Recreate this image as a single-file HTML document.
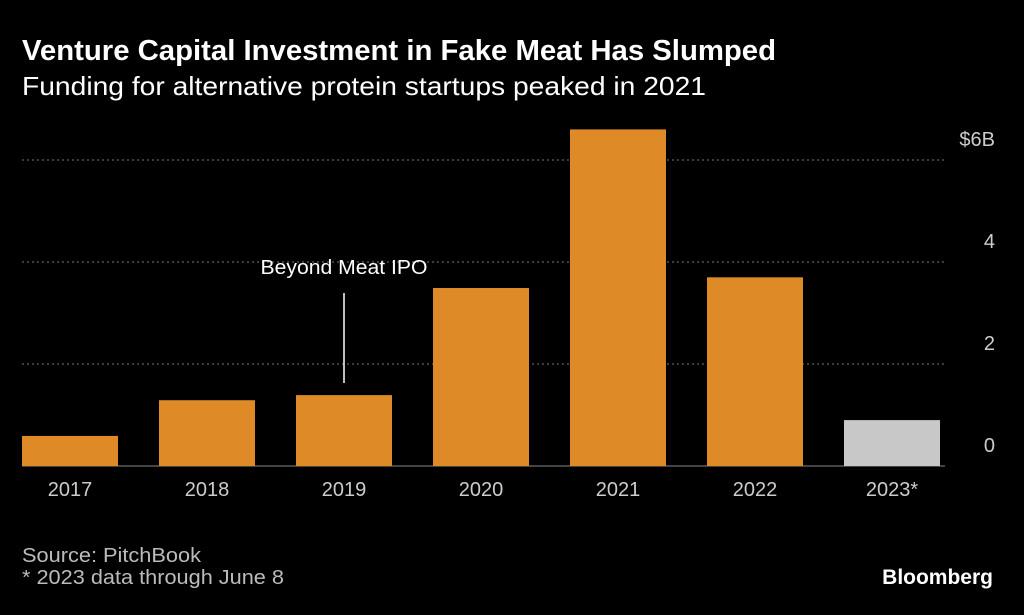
<!DOCTYPE html>
<html><head><meta charset="utf-8"><style>
body{margin:0;background:#000;width:1024px;height:610px;overflow:hidden;font-family:"Liberation Sans",sans-serif;color:#fff}
</style></head><body>
<svg width="1024" height="610" xmlns="http://www.w3.org/2000/svg">
<text x="22" y="60" font-size="29" font-weight="bold" fill="#fff" textLength="754" lengthAdjust="spacingAndGlyphs">Venture Capital Investment in Fake Meat Has Slumped</text>
<text x="22" y="95" font-size="26" fill="#fff" textLength="684" lengthAdjust="spacingAndGlyphs">Funding for alternative protein startups peaked in 2021</text>
<g id="grid"></g><g id="bars"></g><g id="xlab"></g>
<line x1="344" y1="293" x2="344" y2="383" stroke="#fff" stroke-width="1.5"/>
<text x="344" y="274" font-size="20" fill="#fff" text-anchor="middle" textLength="167" lengthAdjust="spacingAndGlyphs">Beyond Meat IPO</text>
<text x="22" y="562" font-size="20" fill="#bbb" textLength="179" lengthAdjust="spacingAndGlyphs">Source: PitchBook</text>
<text x="22" y="584" font-size="20" fill="#bbb" textLength="262" lengthAdjust="spacingAndGlyphs">* 2023 data through June 8</text>
<text x="993" y="584" font-size="21" font-weight="bold" fill="#fff" text-anchor="end">Bloomberg</text>
</svg>
<script>
const categories=["2017","2018","2019","2020","2021","2022","2023*"];
const values=[0.59,1.29,1.39,3.49,6.6,3.7,0.9];
const ticks=[0,2,4,6];
const tickLabels=["0","2","4","$6B"];
const NS="http://www.w3.org/2000/svg";
const y=v=>466-v*51;
const x=i=>22+i*137;
function mk(t,a,p){const e=document.createElementNS(NS,t);for(const k in a)e.setAttribute(k,a[k]);p.appendChild(e);return e;}
const g=document.getElementById('grid'),b=document.getElementById('bars'),xl=document.getElementById('xlab');
ticks.forEach((t,i)=>{
 if(t>0){const l=mk('line',{x1:22,x2:945,y1:y(t),y2:y(t),stroke:'#777','stroke-dasharray':'2,3'},g);
 
 }
 const tx=mk('text',{x:995,y:y(t)-14,'font-size':20,fill:'#ccc','text-anchor':'end'},g);
 tx.textContent=tickLabels[i];
 
 
});
mk('line',{x1:22,x2:945,y1:466,y2:466,stroke:'#888'},g);
categories.forEach((c,i)=>{
 const r=mk('rect',{x:x(i),y:y(values[i]),width:96,height:466-y(values[i]),fill:i==6?'#c8c8c8':'#dd8a27'},b);
 
 
 const t=mk('text',{x:x(i)+48,y:496,'font-size':20,fill:'#ccc','text-anchor':'middle'},xl);
 t.textContent=c;
 
 
});
</script>
</body></html>
